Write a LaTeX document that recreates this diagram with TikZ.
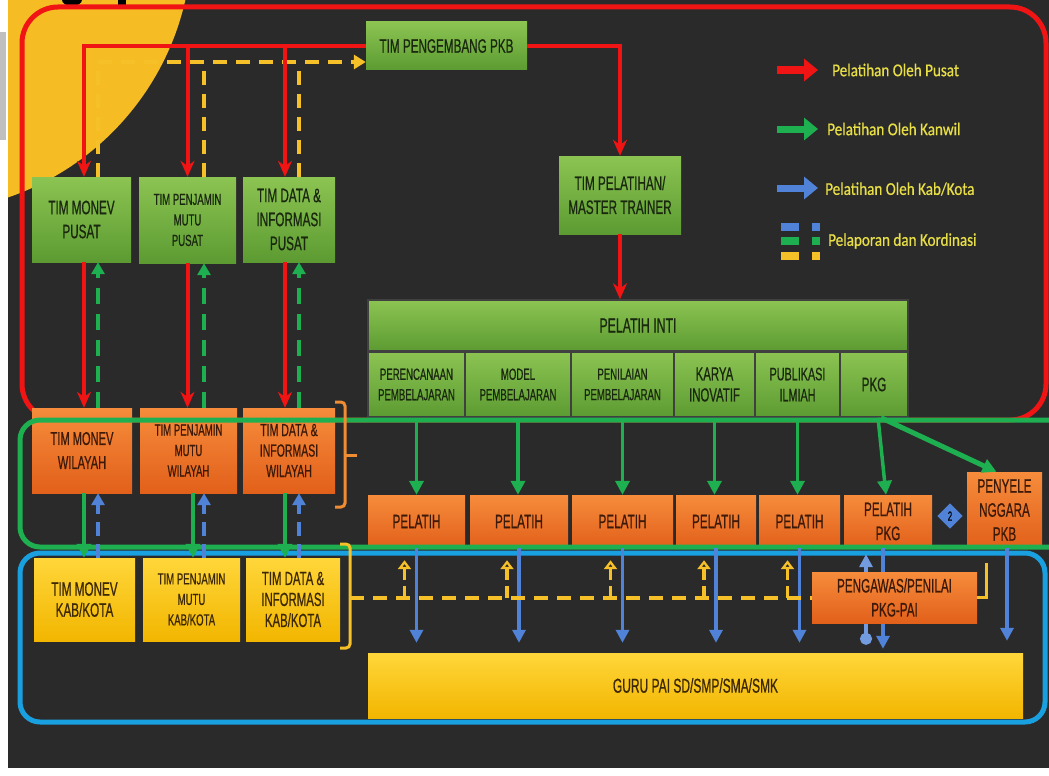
\documentclass[tikz,border=0pt]{standalone}
\usepackage{fontspec}
\setmainfont{Liberation Sans}
\newfontfamily\bfnt{Liberation Sans}[FakeStretch=0.6,FakeBold=0.6]
\newfontfamily\lfnt{Carlito}[FakeStretch=0.84,FakeBold=0.6]
\usetikzlibrary{arrows.meta,shapes.geometric}
\definecolor{bgdark}{RGB}{42,42,42}
\definecolor{ycirc}{RGB}{245,188,35}
\definecolor{redc}{RGB}{240,20,20}
\definecolor{greenc}{RGB}{30,176,80}
\definecolor{cyanc}{RGB}{25,160,225}
\definecolor{bluec}{RGB}{80,130,215}
\definecolor{yline}{RGB}{245,192,40}
\definecolor{obrk}{RGB}{240,140,50}
\definecolor{gtop}{RGB}{140,196,82}
\definecolor{gbot}{RGB}{92,155,50}
\definecolor{otop}{RGB}{246,140,60}
\definecolor{obot}{RGB}{226,96,26}
\definecolor{ytop}{RGB}{255,214,58}
\definecolor{ybot}{RGB}{242,182,0}
\definecolor{gtxt}{RGB}{25,40,15}
\definecolor{otxt}{RGB}{60,25,8}
\definecolor{ytxt}{RGB}{60,40,5}
\definecolor{legtxt}{RGB}{232,222,70}
\tikzset{
  box/.style={rectangle, inner sep=1pt, align=center, font=\bfnt\fontsize{19.5}{24}\selectfont},
  smf/.style={font=\bfnt\fontsize{16}{20.5}\selectfont},
  gbox/.style={box, top color=gtop, bottom color=gbot, text=gtxt},
  cellbox/.style={gbox, draw=black!75, line width=1.5},
  obox/.style={box, top color=otop, bottom color=obot, text=otxt},
  ybox/.style={box, top color=ytop, bottom color=ybot, text=ytxt},
  redarr/.style={draw=redc, line width=4, -{Stealth[length=16pt,width=14pt]}},
  ydash/.style={draw=yline, line width=4, dash pattern=on 14pt off 9pt},
  gdash/.style={draw=greenc, line width=4, dash pattern=on 16pt off 10pt, -{Triangle[length=12pt,width=13pt]}},
  bdash/.style={draw=bluec, line width=4, dash pattern=on 14pt off 8pt, -{Triangle[length=12pt,width=13pt]}},
  garr/.style={draw=greenc, line width=3.5, -{Triangle[length=14pt,width=14pt]}},
  barr/.style={draw=bluec, line width=3.5, -{Triangle[length=13pt,width=13pt]}},
  yup/.style={draw=yline, line width=3.5, dash pattern=on 12pt off 6pt, -{Triangle[open,length=9pt,width=13pt]}},
  legarr/.style={line width=7, -{Triangle[length=14pt,width=22pt]}},
  legtext/.style={anchor=west, text=legtxt, font=\lfnt\fontsize{18}{20}\selectfont, inner sep=0pt}
}
\begin{document}
\begin{tikzpicture}[x=1pt,y=-1pt]
\useasboundingbox (0,0) rectangle (1049,776);
\begin{scope}
\clip (0,0) rectangle (1049,776);
\fill[white] (0,0) rectangle (1049,776);
\fill[bgdark] (8,0) rectangle (1049,768);
\fill[black!25] (0,32) rectangle (6,140);
\begin{scope}
\clip (8,0) rectangle (1049,768);
\fill[ycirc] (-80,-60) circle[radius=272pt];
\end{scope}
% cut-off title letters
\fill[black] (72,0) ellipse [x radius=10pt, y radius=6pt];
\fill[black] (118,-2) rectangle (126,8);

% red frame
\draw[redc, line width=5, rounded corners=36] (22,7) rectangle (1046,420);

% ---------- nodes ----------
\node[gbox, minimum width=161, minimum height=48] (pkb) at (446.5,46) {TIM PENGEMBANG PKB};
\node[gbox, minimum width=122, minimum height=78] (master) at (620,195) {TIM PELATIHAN/\\MASTER TRAINER};
\node[gbox, minimum width=99, minimum height=85] (monevP) at (81.5,219.5) {TIM MONEV\\PUSAT};
\node[gbox, smf, minimum width=97, minimum height=86] (penjP) at (187.5,220) {TIM PENJAMIN\\MUTU\\PUSAT};
\node[gbox, minimum width=92, minimum height=85] (dataP) at (289,219.5) {TIM DATA \&\\INFORMASI\\PUSAT};

\node[cellbox, font=\bfnt\fontsize{20.5}{24}\selectfont, minimum width=540, minimum height=51] (inti) at (638,325.5) {PELATIH INTI};
\node[cellbox, smf, minimum width=97, minimum height=65] (c1) at (416.5,384.5) {PERENCANAAN\\PEMBELAJARAN};
\node[cellbox, smf, minimum width=106, minimum height=65] (c2) at (518,384.5) {MODEL\\PEMBELAJARAN};
\node[cellbox, smf, minimum width=103, minimum height=65] (c3) at (622.5,384.5) {PENILAIAN\\PEMBELAJARAN};
\node[cellbox, font=\bfnt\fontsize{19}{21}\selectfont, minimum width=81, minimum height=65] (c4) at (714.5,384.5) {KARYA\\INOVATIF};
\node[cellbox, font=\bfnt\fontsize{18}{21}\selectfont, minimum width=85, minimum height=65] (c5) at (797.5,384.5) {PUBLIKASI\\ILMIAH};
\node[cellbox, minimum width=68, minimum height=65] (c6) at (874,384.5) {PKG};

\node[obox, font=\bfnt\fontsize{18.5}{24}\selectfont, minimum width=100, minimum height=85] (monevW) at (82,450.5) {TIM MONEV\\WILAYAH};
\node[obox, smf, minimum width=97, minimum height=85] (penjW) at (188.5,450.5) {TIM PENJAMIN\\MUTU\\WILAYAH};
\node[obox, font=\bfnt\fontsize{17.5}{20.5}\selectfont, minimum width=92, minimum height=85] (dataW) at (289,450.5) {TIM DATA \&\\INFORMASI\\WILAYAH};

\node[ybox, font=\bfnt\fontsize{19.5}{21}\selectfont, minimum width=101, minimum height=83] (monevK) at (84.5,599.5) {TIM MONEV\\KAB/KOTA};
\node[ybox, smf, minimum width=97, minimum height=83] (penjK) at (191.5,599.5) {TIM PENJAMIN\\MUTU\\KAB/KOTA};
\node[ybox, font=\bfnt\fontsize{19}{21}\selectfont, minimum width=94, minimum height=83] (dataK) at (293,599.5) {TIM DATA \&\\INFORMASI\\KAB/KOTA};

\node[obox, minimum width=97, minimum height=53] (p1) at (416.5,521.5) {PELATIH};
\node[obox, minimum width=98, minimum height=53] (p2) at (519,521.5) {PELATIH};
\node[obox, minimum width=101, minimum height=53] (p3) at (622.5,521.5) {PELATIH};
\node[obox, minimum width=80, minimum height=53] (p4) at (716,521.5) {PELATIH};
\node[obox, minimum width=81, minimum height=53] (p5) at (799.5,521.5) {PELATIH};
\node[obox, minimum width=88, minimum height=53] (p6) at (888,521.5) {PELATIH\\PKG};
\node[obox, minimum width=75, minimum height=76] (peny) at (1004.5,510) {PENYELE\\NGGARA\\PKB};
\node[fill=bluec, minimum size=18, inner sep=0pt, rotate=45] (dia) at (950,516) {};
\node[text=black, font=\bfnt\fontsize{13}{13}\selectfont, inner sep=0pt] at (dia) {2};

\node[ybox, font=\bfnt\fontsize{20}{24}\selectfont, minimum width=655, minimum height=65] (guru) at (695.5,685.5) {GURU PAI SD/SMP/SMA/SMK};

% column coordinates
\coordinate (xa1) at (84,0);
\coordinate (xa2) at (187.5,0);
\coordinate (xa3) at (285,0);
\coordinate (xb1) at (98,0);
\coordinate (xb2) at (204,0);
\coordinate (xb3) at (299,0);
\coordinate (xc2) at (193,0);
\coordinate (yrow) at (0,62);

% ---------- top red / yellow connectors ----------
\draw[ydash, -{Triangle[length=12pt,width=14pt]}] (monevP.north -| xb1) |- (pkb.west |- yrow);
\draw[ydash] (penjP.north -| xb2) -- (yrow -| xb2);
\draw[ydash] (dataP.north -| xb3) -- (yrow -| xb3);

\draw[redarr] (pkb.west) -| (monevP.north -| xa1);
\draw[redarr] (pkb.west -| xa2) -- (penjP.north -| xa2);
\draw[redarr] (pkb.west -| xa3) -- (dataP.north -| xa3);
\draw[redarr] (pkb.east) -| (master.north);
\draw[redarr] (master.south) -- (master.south |- inti.north);

% pusat <-> wilayah
\draw[redarr] (monevP.south -| xa1) -- (monevW.north -| xa1);
\draw[redarr] (penjP.south -| xa2) -- (penjW.north -| xa2);
\draw[redarr] (dataP.south -| xa3) -- (dataW.north -| xa3);
\draw[gdash] (monevW.north -| xb1) -- (monevP.south -| xb1);
\draw[gdash] (penjW.north -| xb2) -- (penjP.south -| xb2);
\draw[gdash] (dataW.north -| xb3) -- (dataP.south -| xb3);

% ---------- frames of kanwil and kab/kota ----------
\draw[greenc, line width=5, rounded corners=20] (20,420) rectangle (1075,547);
\draw[cyanc, line width=5, rounded corners=20] (20,553) rectangle (1045,722);

% wilayah <-> kab/kota
\draw[garr] (monevW.south -| xa1) -- (monevK.north -| xa1);
\draw[garr] (penjW.south -| xc2) -- (penjK.north -| xc2);
\draw[garr] (dataW.south -| xa3) -- (dataK.north -| xa3);
\draw[bdash] (monevK.north -| xb1) -- (monevW.south -| xb1);
\draw[bdash] (penjK.north -| xb2) -- (penjW.south -| xb2);
\draw[bdash] (dataK.north -| xb3) -- (dataW.south -| xb3);

% pelatih inti -> pelatih
\draw[garr] (c1.south) -- (c1.south |- p1.north);
\draw[garr] (c2.south) -- (c2.south |- p2.north);
\draw[garr] (c3.south) -- (c3.south |- p3.north);
\draw[garr] (c4.south) -- (c4.south |- p4.north);
\draw[garr] (c5.south) -- (c5.south |- p5.north);
\draw[garr] ([xshift=4]c6.south) -- ([xshift=-2]p6.north);
\draw[garr, line width=5] ([xshift=7]c6.south) -- ([xshift=-8]peny.north);

% brackets
\draw[obrk, line width=3, rounded corners=4] (335,402) -- (345,402) -- (345,507) -- (335,507);
\draw[obrk, line width=3] (345,455) -- (357,455);
\draw[yline, line width=3, rounded corners=4] (340,544) -- (350,544) -- (350,648) -- (340,648);
\coordinate (bk) at (350,597.5);

% pelatih -> guru (blue)
\draw[barr, shorten >=10pt] (p1.south) -- (p1.south |- guru.north);
\draw[barr, shorten >=10pt] (p2.south) -- (p2.south |- guru.north);
\draw[barr, shorten >=10pt] (p3.south) -- (p3.south |- guru.north);
\draw[barr, shorten >=10pt] (p4.south) -- (p4.south |- guru.north);
\draw[barr, shorten >=10pt] (p5.south) -- (p5.south |- guru.north);
\coordinate (q1) at ([xshift=-22]p6.south);
\coordinate (q2) at ([xshift=-5]p6.south);
\coordinate (q3) at ([xshift=2.5]peny.south);
\draw[draw=bluec!80!white, line width=3.5, {Circle[length=12pt]}-{Triangle[length=13pt,width=13pt]}] ([yshift=8]q1 |- guru.north) -- ([yshift=-6]q1);
\draw[barr, shorten >=4pt] (q2) -- (q2 |- guru.north);
\draw[barr, shorten >=12pt] (q3) -- (q3 |- guru.north);

\node[obox, minimum width=165, minimum height=51] (pengawas) at (894.5,597.5) {PENGAWAS/PENILAI\\PKG-PAI};

% reporting (yellow dashed)
\draw[ydash] (bk) -- (pengawas.west);
\draw[yline, line width=3] (bk) -- ++(8,0);
\coordinate (rb) at (986,563);
\draw[yline, line width=3] (pengawas.east) -| (rb);
\foreach \k in {1,...,5} {
  \coordinate (u\k) at ([xshift=-12]p\k.south);
  \draw[yup] (u\k |- pengawas.west) -- ([yshift=-12]u\k);
}

% ---------- legend ----------
\coordinate (la1) at (777,70);  \coordinate (lb1) at (818,70);
\coordinate (la2) at (777,129); \coordinate (lb2) at (818,129);
\coordinate (la3) at (777,188); \coordinate (lb3) at (818,188);
\draw[legarr, draw=redc] (la1) -- (lb1);
\draw[legarr, draw=greenc] (la2) -- (lb2);
\draw[legarr, draw=bluec] (la3) -- (lb3);
\node[legtext] (t1) at (832,70) {Pelatihan Oleh Pusat};
\node[legtext] (t2) at (827,129) {Pelatihan Oleh Kanwil};
\node[legtext] (t3) at (825,189) {Pelatihan Oleh Kab/Kota};
\fill[bluec] (781,223) rectangle (799,231);
\fill[bluec] (812,223) rectangle (820,231);
\fill[greenc] (781,237) rectangle (799,245);
\fill[greenc] (812,237) rectangle (820,245);
\fill[yline] (781,252) rectangle (799,260);
\fill[yline] (812,252) rectangle (820,260);
\node[legtext] (t4) at (828,241) {Pelaporan dan Kordinasi};
\end{scope}
\end{tikzpicture}
\end{document}
